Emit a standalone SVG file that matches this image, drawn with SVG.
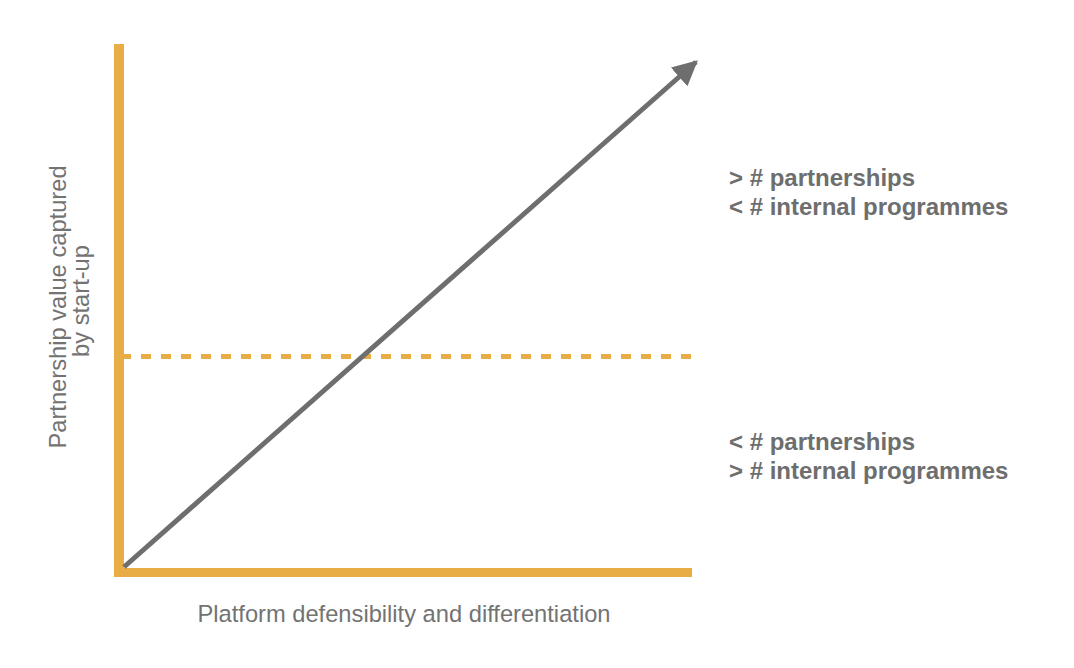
<svg xmlns="http://www.w3.org/2000/svg" width="1074" height="668" viewBox="0 0 1074 668">
<style>
.axis{fill:#E8AD45}
.lbl{font-family:"Liberation Sans",Arial,sans-serif;font-size:23.7px;fill:#737373}
.note{font-family:"Liberation Sans",Arial,sans-serif;font-size:24px;font-weight:bold;fill:#6e6e6e}
</style>
<defs>
<marker id="ah" viewBox="0 0 10 10" refX="9" refY="5" markerWidth="5" markerHeight="5" markerUnits="strokeWidth" orient="auto">
<path d="M0,0 L10,5 L0,10 z" fill="#6e6e6e"/>
</marker>
</defs>
<rect width="1074" height="668" fill="#ffffff"/>
<g id="axes">
<rect class="axis" x="114" y="44" width="10" height="533"/>
<rect class="axis" x="114" y="568" width="578" height="9"/>
</g>
<g id="connectors">
<line x1="121" y1="356.5" x2="691" y2="356.5" stroke="#E8AD45" stroke-width="5" stroke-dasharray="10 10"/>
<line x1="124" y1="567" x2="696" y2="62" stroke="#6e6e6e" stroke-width="5" marker-end="url(#ah)"/>
</g>
<g id="y-label">
<text class="lbl" text-anchor="middle" transform="translate(66,307) rotate(-90)">Partnership value captured</text>
<text class="lbl" text-anchor="middle" transform="translate(89,301) rotate(-90)">by start-up</text>
</g>
<g id="x-label">
<text class="lbl" x="404" y="622" text-anchor="middle">Platform defensibility and differentiation</text>
</g>
<g id="upper-note">
<text class="note" x="729" y="186">&gt; # partnerships</text>
<text class="note" x="729" y="215">&lt; # internal programmes</text>
</g>
<g id="lower-note">
<text class="note" x="729" y="450">&lt; # partnerships</text>
<text class="note" x="729" y="479">&gt; # internal programmes</text>
</g>
</svg>
